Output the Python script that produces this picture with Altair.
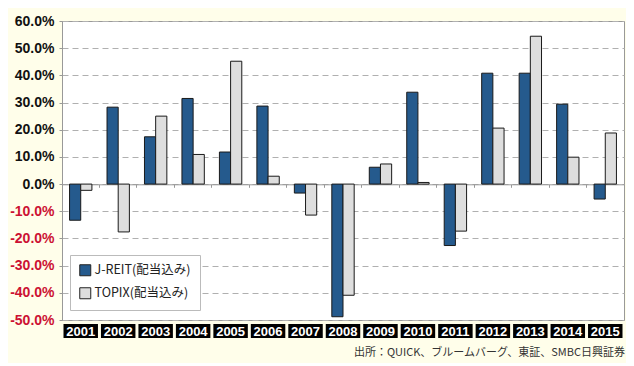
import altair as alt
import pandas as pd

years = ["2001", "2002", "2003", "2004", "2005", "2006", "2007", "2008",
         "2009", "2010", "2011", "2012", "2013", "2014", "2015"]
jreit = [-13.3, 28.3, 17.4, 31.5, 11.8, 28.7, -3.3, -48.8,
         6.2, 33.8, -22.6, 40.8, 40.8, 29.4, -5.5]
topix = [-2.3, -17.6, 25.0, 10.9, 45.2, 2.9, -11.4, -40.9,
         7.4, 0.6, -17.3, 20.6, 54.4, 9.9, 18.8]
series = ["J-REIT(配当込み)", "TOPIX(配当込み)"]
y_ticks = [-0.5, -0.4, -0.3, -0.2, -0.1, 0.0, 0.1, 0.2, 0.3, 0.4, 0.5, 0.6]
source_text = "出所：QUICK、ブルームバーグ、東証、SMBC日興証券"

rows = []
for i, yr in enumerate(years):
    rows.append({"year": yr, "series": series[0], "value": jreit[i] / 100})
    rows.append({"year": yr, "series": series[1], "value": topix[i] / 100})
df = pd.DataFrame(rows)
ydf = pd.DataFrame({"year": years})

W, H = 562, 299
JP = "Noto Sans CJK JP"
LAT = "Liberation Sans"

xscale = alt.Scale(domain=years, paddingInner=0, paddingOuter=0)
yscale = alt.Scale(domain=[-0.5, 0.6], nice=False)

label_expr = "(datum.value < -0.0001 ? '-' : '') + format(abs(datum.value) * 100, '.1f') + '%'"

bars = alt.Chart(df).mark_bar(strokeWidth=1, stroke="#1a1a1a").encode(
    x=alt.X("year:N", scale=xscale, sort=years,
            axis=alt.Axis(orient="bottom", offset=-(H - 163.3), labels=False, title=None,
                          domainColor="#999999", tickColor="#999999", tickSize=3,
                          bandPosition=0, grid=False, zindex=0)),
    xOffset=alt.XOffset("series:N", sort=series,
                        scale=alt.Scale(paddingInner=0, paddingOuter=0.675)),
    y=alt.Y("value:Q", scale=yscale,
            axis=alt.Axis(values=y_ticks, labelExpr=label_expr, title=None,
                          labelFont=LAT, labelFontSize=14, labelFontWeight="bold",
                          labelColor={"condition": {"test": "datum.value < -0.0001", "value": "#cc1133"},
                                      "value": "#111111"},
                          labelPadding=5, tickSize=3, tickColor="#999999",
                          domainColor="#999999", gridColor="#b0b0b0", gridDash=[6, 4],
                          grid=True)),
    color=alt.Color("series:N", sort=series,
                    scale=alt.Scale(domain=series, range=["#255a8d", "#dedede"]),
                    legend=alt.Legend(title=None, orient="none", legendX=8, legendY=234,
                                      fillColor="#ffffff", strokeColor="#bbbbbb",
                                      padding=9, symbolType="square", symbolSize=121,
                                      symbolStrokeColor="#222222", symbolStrokeWidth=1,
                                      labelFont=JP, labelFontSize=12.5, labelColor="#222222",
                                      labelOffset=3, rowPadding=7)),
)

boxes = alt.Chart(ydf).mark_bar(color="#000000", width=alt.RelativeBandSize(0.92)).encode(
    x=alt.X("year:N", scale=xscale, sort=years),
    y=alt.value(H + 4),
    y2=alt.value(H + 18),
)

box_text = alt.Chart(ydf).mark_text(color="#ffffff", font=LAT, fontSize=13, fontWeight="bold",
                                    baseline="middle").encode(
    x=alt.X("year:N", scale=xscale, sort=years),
    y=alt.value(H + 11.5),
    text="year:N",
)

src = alt.Chart(pd.DataFrame({"t": [source_text]})).mark_text(
    font=JP, fontSize=11, color="#333333", align="right", baseline="middle").encode(
    x=alt.value(W + 1),
    y=alt.value(H + 33),
    text="t:N",
)

chart = alt.layer(bars, boxes, box_text, src).properties(
    width=W, height=H,
    background="#fffeea",
    autosize=alt.AutoSizeParams(type="none"),
    padding={"left": 54, "top": 13, "right": 2, "bottom": 43},
).configure_view(fill="#ffffff", stroke="#999999", strokeWidth=1)

chart.save("out.html", embed_options={"renderer": "svg", "actions": False})
